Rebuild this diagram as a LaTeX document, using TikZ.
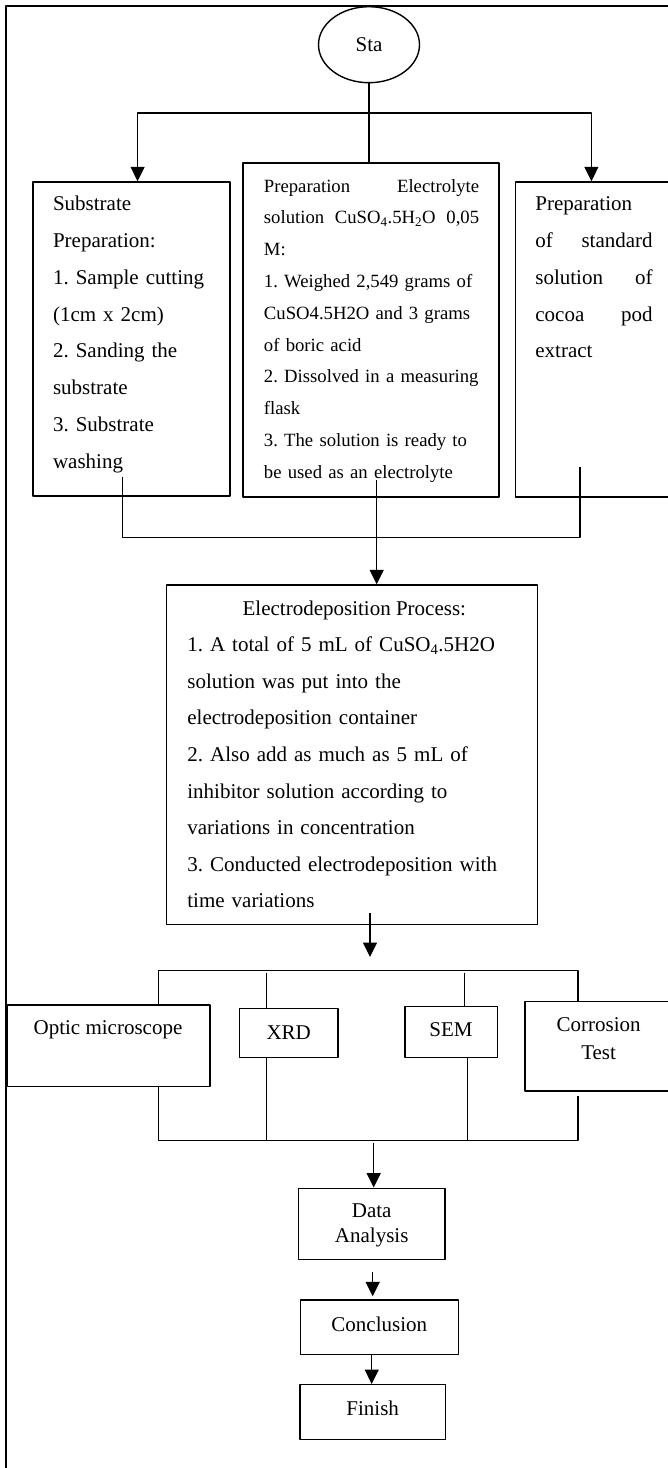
\documentclass[tikz,border=0pt]{standalone}
\usepackage{fontspec}
\setmainfont{Liberation Serif}
\usetikzlibrary{arrows.meta,shapes.geometric}
\frenchspacing
\hyphenpenalty=10000
\exhyphenpenalty=10000
\begin{document}
\begin{tikzpicture}[x=1pt,y=-1pt,line join=round,line width=1.3pt,>={Triangle[length=14.5pt,width=14pt]},
  blk/.style={draw,line width=1.4pt,inner sep=0pt},
  big/.style={font=\fontsize{21}{36.8}\selectfont},
  txt/.style={inner sep=0pt,anchor=base west,align=left,text width=#1},
  ctr/.style={inner sep=0pt,anchor=base,align=center,text width=#1},
  lbl/.style={inner sep=0pt,anchor=base,big}]
\useasboundingbox (0,0) rectangle (668,1468);
\clip (0,0) rectangle (668,1468);
\draw[line width=2.4pt](6.2,1480)--(6.2,6)--(680,6);

\node[blk,ellipse,minimum width=101pt,minimum height=76pt,big] (sta) at (369,44.7) {Sta};

\node[blk,minimum width=197.2pt,minimum height=314pt] (sub) at (131.4,339) {};
\node[blk,minimum width=256pt,minimum height=334pt] (elyt) at (371,330) {};
\node[blk,minimum width=174.5pt,minimum height=315pt] (cocoa) at (602.75,339.5) {};

\node[txt=175pt,big] (subtxt) at (52.4,210.7) {Substrate\\ Preparation:\\ 1. Sample cutting\\ (1cm x 2cm)\\ 2. Sanding the\\ substrate\\ 3. Substrate\\ washing};
\node[txt=215.2pt,font=\fontsize{18.7}{31.8}\selectfont] (elyttxt) at (263.3,192) {Preparation\hfill Electrolyte\\ solution\hfill CuSO\textsubscript{4}.5H\textsubscript{2}O\hfill 0,05\\ M:\\ 1. Weighed 2,549 grams of\\ CuSO4.5H2O and 3 grams\\ of boric acid\\ 2. Dissolved in a measuring\\ flask\\ 3. The solution is ready to\\ be used as an electrolyte};
\node[txt=117.3pt,big] (cocoatxt) at (534.7,210.7) {Preparation\\ of\hfill standard\\ solution\hfill of\\ cocoa\hfill pod\\ extract};

\coordinate (fork) at (sta.south |- 0,113);
\draw(sta.south)--(sta.south |- elyt.north);
\draw[->](fork)-|(137.6,0 |- sub.north);
\draw[->](fork)-|(591.4,0 |- cocoa.north);

\coordinate (subout) at (122.7,476.7);
\coordinate (elytout) at (376.7,480);
\coordinate (cocoaout) at (580,466.7);
\draw(subout)|-(cocoaout |- 0,537.3)--(cocoaout);

\node[blk,minimum width=370.6pt,minimum height=339.3pt] (elec) at (352,754.65) {};
\node[lbl] (electitle) at (354.3,615) {Electrodeposition Process:};
\node[txt=345pt,font=\fontsize{21}{36.6}\selectfont] (electxt) at (186.7,651.7) {1. A total of 5 mL of CuSO\textsubscript{4}.5H2O\\ solution was put into the\\ electrodeposition container\\ 2. Also add as much as 5 mL of\\ inhibitor solution according to\\ variations in concentration\\ 3. Conducted electrodeposition with\\ time variations};
\draw[->](elytout)--(elytout |- elec.north);

\coordinate (elecout) at (370,913);
\coordinate (split) at (370,957);
\draw[->](elecout)--(split);

\node[blk,minimum width=202.7pt,minimum height=81.7pt] (optic) at (108.65,1045.85) {};
\node[blk,minimum width=98.5pt,minimum height=49.4pt] (xrd) at (288.75,1033) {};
\node[blk,minimum width=92.9pt,minimum height=51pt] (sem) at (451.25,1032.2) {};
\node[blk,minimum width=165pt,minimum height=89.3pt] (corr) at (607.5,1046.35) {};
\node[lbl] (optictxt) at (108,1034) {Optic microscope};
\node[lbl] (xrdtxt) at (288.7,1039) {XRD};
\node[lbl] (semtxt) at (451,1036.7) {SEM};
\node[ctr=140pt,font=\fontsize{21}{27.6}\selectfont] (corrtxt) at (598.6,1031.7) {Corrosion\\ Test};

\draw(158.5,0 |- optic.north)|-(578,970.7)--(578,0 |- corr.north);
\draw(266.3,972.7)--(266.3,0 |- xrd.north);
\draw(464.8,972.7)--(464.8,0 |- sem.north);
\draw(158.5,0 |- optic.south)|-(578,1140.7)--(578,1096);
\draw(266.3,0 |- xrd.south)--(266.3,1140.7);
\draw(467.4,0 |- sem.south)--(467.4,1140.7);

\node[blk,minimum width=146.7pt,minimum height=71pt] (data) at (371.7,1223.8) {};
\node[ctr=140pt,font=\fontsize{21}{25.4}\selectfont] (datatxt) at (371.7,1217.3) {Data\\ Analysis};
\draw[->](373.7,1143)--(373.7,0 |- data.north);

\node[blk,minimum width=157.6pt,minimum height=54.3pt] (conc) at (379.5,1327.15) {};
\node[lbl] (conctxt) at (379.3,1331.7) {Conclusion};
\draw[->,shorten >=3pt](372.7,1271.7)--(372.7,0 |- conc.north);

\node[blk,minimum width=145.7pt,minimum height=54.6pt] (fin) at (372.85,1412) {};
\node[lbl] (fintxt) at (372.7,1415) {Finish};
\draw[->](371.7,0 |- conc.south)--(371.7,0 |- fin.north);
\end{tikzpicture}
\end{document}
